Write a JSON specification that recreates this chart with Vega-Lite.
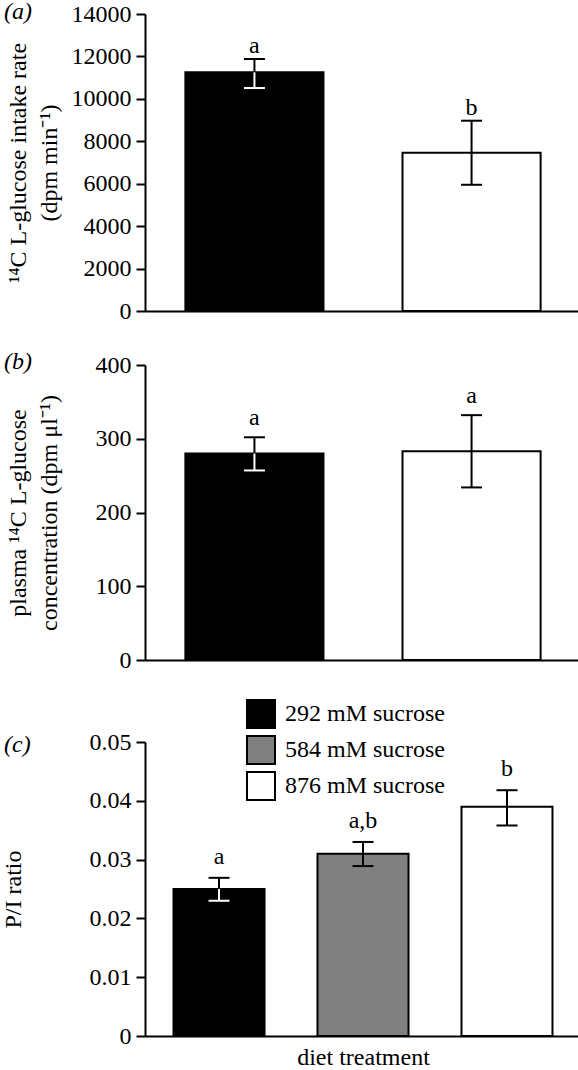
{
  "$schema": "https://vega.github.io/schema/vega-lite/v6.json",
  "padding": {"left": 1, "top": 0, "right": 0, "bottom": 0},
  "datasets": {
    "a": [
      {"diet": "292 mM sucrose", "value": 11250, "lo": 10510, "hi": 11880, "sig": "a"},
      {"diet": "876 mM sucrose", "value": 7460, "lo": 5950, "hi": 8970, "sig": "b"}
    ],
    "b": [
      {"diet": "292 mM sucrose", "value": 280, "lo": 257, "hi": 302, "sig": "a"},
      {"diet": "876 mM sucrose", "value": 283, "lo": 234, "hi": 332, "sig": "a"}
    ],
    "c": [
      {"diet": "292 mM sucrose", "value": 0.025, "lo": 0.023, "hi": 0.0269, "sig": "a"},
      {"diet": "584 mM sucrose", "value": 0.031, "lo": 0.0289, "hi": 0.033, "sig": "a,b"},
      {"diet": "876 mM sucrose", "value": 0.039, "lo": 0.0358, "hi": 0.0418, "sig": "b"}
    ]
  },
  "spacing": 27,
  "resolve": {
    "scale": {"x": "independent", "y": "independent", "fill": "independent"},
    "legend": {"fill": "independent"}
  },
  "vconcat": [
    {
      "width": 436,
      "height": 297,
      "title": {"text": "(a)", "anchor": "start", "frame": "group", "dx": -141, "dy": 34, "offset": 0, "baseline": "middle", "fontSize": 24, "fontStyle": "italic", "fontWeight": "normal", "font": "Liberation Serif", "color": "black"},
      "data": {"name": "a"},
      "encoding": {
        "x": {"field": "diet", "type": "nominal", "sort": null, "scale": {"paddingInner": 0.364, "paddingOuter": 0.186}, "axis": {"labels": false, "ticks": false, "title": null}}
      },
      "layer": [
        {
          "mark": {"type": "bar", "stroke": "black", "strokeWidth": 2},
          "encoding": {
            "y": {"field": "value", "type": "quantitative", "scale": {"domain": [0, 14000], "nice": false}, "axis": {"values": [0, 2000, 4000, 6000, 8000, 10000, 12000, 14000], "format": "d", "title": ["¹⁴C L-glucose intake rate", "(dpm min⁻¹)"], "titlePadding": 10, "titleLineHeight": 31}},
            "fill": {"field": "diet", "type": "nominal", "scale": {"domain": ["292 mM sucrose", "584 mM sucrose", "876 mM sucrose"], "range": ["#000000", "#808080", "#ffffff"]}, "legend": null}
          }
        },
        {"mark": {"type": "rule", "color": "black", "strokeWidth": 2}, "encoding": {"y": {"field": "value", "type": "quantitative"}, "y2": {"field": "hi"}}},
        {"mark": {"type": "tick", "color": "black", "thickness": 2, "size": 21, "orient": "horizontal", "opacity": 1}, "encoding": {"y": {"field": "hi", "type": "quantitative"}}},
        {"transform": [{"filter": "datum.diet == '292 mM sucrose'"}], "mark": {"type": "rule", "color": "white", "strokeWidth": 2}, "encoding": {"y": {"field": "lo", "type": "quantitative"}, "y2": {"field": "value"}}},
        {"transform": [{"filter": "datum.diet != '292 mM sucrose'"}], "mark": {"type": "rule", "color": "black", "strokeWidth": 2}, "encoding": {"y": {"field": "lo", "type": "quantitative"}, "y2": {"field": "value"}}},
        {"transform": [{"filter": "datum.diet == '292 mM sucrose'"}], "mark": {"type": "tick", "color": "white", "thickness": 2, "size": 21, "orient": "horizontal", "opacity": 1}, "encoding": {"y": {"field": "lo", "type": "quantitative"}}},
        {"transform": [{"filter": "datum.diet != '292 mM sucrose'"}], "mark": {"type": "tick", "color": "black", "thickness": 2, "size": 21, "orient": "horizontal", "opacity": 1}, "encoding": {"y": {"field": "lo", "type": "quantitative"}}},
        {"mark": {"type": "text", "baseline": "alphabetic", "dy": -6, "fontSize": 24, "font": "Liberation Serif", "color": "black"}, "encoding": {"y": {"field": "hi", "type": "quantitative"}, "text": {"field": "sig"}}}
      ]
    },
    {
      "width": 436,
      "height": 295,
      "title": {"text": "(b)", "anchor": "start", "frame": "group", "dx": -141, "dy": 33, "offset": 0, "baseline": "middle", "fontSize": 24, "fontStyle": "italic", "fontWeight": "normal", "font": "Liberation Serif", "color": "black"},
      "data": {"name": "b"},
      "encoding": {
        "x": {"field": "diet", "type": "nominal", "sort": null, "scale": {"paddingInner": 0.364, "paddingOuter": 0.186}, "axis": {"labels": false, "ticks": false, "title": null}}
      },
      "layer": [
        {
          "mark": {"type": "bar", "stroke": "black", "strokeWidth": 2},
          "encoding": {
            "y": {"field": "value", "type": "quantitative", "scale": {"domain": [0, 400], "nice": false}, "axis": {"values": [0, 100, 200, 300, 400], "format": "d", "title": ["plasma ¹⁴C L-glucose", "concentration (dpm μl⁻¹)"], "titlePadding": 34, "titleLineHeight": 31}},
            "fill": {"field": "diet", "type": "nominal", "scale": {"domain": ["292 mM sucrose", "584 mM sucrose", "876 mM sucrose"], "range": ["#000000", "#808080", "#ffffff"]}, "legend": null}
          }
        },
        {"mark": {"type": "rule", "color": "black", "strokeWidth": 2}, "encoding": {"y": {"field": "value", "type": "quantitative"}, "y2": {"field": "hi"}}},
        {"mark": {"type": "tick", "color": "black", "thickness": 2, "size": 21, "orient": "horizontal", "opacity": 1}, "encoding": {"y": {"field": "hi", "type": "quantitative"}}},
        {"transform": [{"filter": "datum.diet == '292 mM sucrose'"}], "mark": {"type": "rule", "color": "white", "strokeWidth": 2}, "encoding": {"y": {"field": "lo", "type": "quantitative"}, "y2": {"field": "value"}}},
        {"transform": [{"filter": "datum.diet != '292 mM sucrose'"}], "mark": {"type": "rule", "color": "black", "strokeWidth": 2}, "encoding": {"y": {"field": "lo", "type": "quantitative"}, "y2": {"field": "value"}}},
        {"transform": [{"filter": "datum.diet == '292 mM sucrose'"}], "mark": {"type": "tick", "color": "white", "thickness": 2, "size": 21, "orient": "horizontal", "opacity": 1}, "encoding": {"y": {"field": "lo", "type": "quantitative"}}},
        {"transform": [{"filter": "datum.diet != '292 mM sucrose'"}], "mark": {"type": "tick", "color": "black", "thickness": 2, "size": 21, "orient": "horizontal", "opacity": 1}, "encoding": {"y": {"field": "lo", "type": "quantitative"}}},
        {"mark": {"type": "text", "baseline": "alphabetic", "dy": -12, "fontSize": 24, "font": "Liberation Serif", "color": "black"}, "encoding": {"y": {"field": "hi", "type": "quantitative"}, "text": {"field": "sig"}}}
      ]
    },
    {
      "width": 436,
      "height": 294,
      "title": {"text": "(c)", "anchor": "start", "frame": "group", "dx": -141, "dy": 70, "offset": 0, "baseline": "middle", "fontSize": 24, "fontStyle": "italic", "fontWeight": "normal", "font": "Liberation Serif", "color": "black"},
      "data": {"name": "c"},
      "encoding": {
        "x": {"field": "diet", "type": "nominal", "sort": null, "scale": {"paddingInner": 0.368, "paddingOuter": 0.198}, "axis": {"labels": false, "ticks": false, "title": "diet treatment", "titlePadding": 9}}
      },
      "layer": [
        {
          "mark": {"type": "bar", "stroke": "black", "strokeWidth": 2},
          "encoding": {
            "y": {"field": "value", "type": "quantitative", "scale": {"domain": [0, 0.05], "nice": false}, "axis": {"values": [0, 0.01, 0.02, 0.03, 0.04, 0.05], "format": "~g", "title": "P/I ratio", "titlePadding": 64}},
            "fill": {"field": "diet", "type": "nominal", "scale": {"domain": ["292 mM sucrose", "584 mM sucrose", "876 mM sucrose"], "range": ["#000000", "#808080", "#ffffff"]}, "legend": {"orient": "none", "legendX": 101, "legendY": -43, "title": null, "direction": "vertical", "symbolType": "square", "symbolSize": 784, "symbolStrokeColor": "black", "symbolStrokeWidth": 2, "symbolOpacity": 1, "labelFontSize": 24, "labelFont": "Liberation Serif", "labelColor": "black", "labelOffset": 9, "rowPadding": 0, "padding": 0, "labelLimit": 400}}
          }
        },
        {"mark": {"type": "rule", "color": "black", "strokeWidth": 2}, "encoding": {"y": {"field": "value", "type": "quantitative"}, "y2": {"field": "hi"}}},
        {"mark": {"type": "tick", "color": "black", "thickness": 2, "size": 21, "orient": "horizontal", "opacity": 1}, "encoding": {"y": {"field": "hi", "type": "quantitative"}}},
        {"transform": [{"filter": "datum.diet == '292 mM sucrose'"}], "mark": {"type": "rule", "color": "white", "strokeWidth": 2}, "encoding": {"y": {"field": "lo", "type": "quantitative"}, "y2": {"field": "value"}}},
        {"transform": [{"filter": "datum.diet != '292 mM sucrose'"}], "mark": {"type": "rule", "color": "black", "strokeWidth": 2}, "encoding": {"y": {"field": "lo", "type": "quantitative"}, "y2": {"field": "value"}}},
        {"transform": [{"filter": "datum.diet == '292 mM sucrose'"}], "mark": {"type": "tick", "color": "white", "thickness": 2, "size": 21, "orient": "horizontal", "opacity": 1}, "encoding": {"y": {"field": "lo", "type": "quantitative"}}},
        {"transform": [{"filter": "datum.diet != '292 mM sucrose'"}], "mark": {"type": "tick", "color": "black", "thickness": 2, "size": 21, "orient": "horizontal", "opacity": 1}, "encoding": {"y": {"field": "lo", "type": "quantitative"}}},
        {"mark": {"type": "text", "baseline": "alphabetic", "dy": -14, "fontSize": 24, "font": "Liberation Serif", "color": "black"}, "encoding": {"y": {"field": "hi", "type": "quantitative"}, "text": {"field": "sig"}}}
      ]
    }
  ],
  "config": {
    "view": {"stroke": null},
    "font": "Liberation Serif",
    "axis": {
      "domainColor": "black", "domainWidth": 2, "tickColor": "black", "tickWidth": 2, "tickSize": 9,
      "labelFont": "Liberation Serif", "labelFontSize": 24, "labelColor": "black", "labelPadding": 5, "labelOverlap": false,
      "titleFont": "Liberation Serif", "titleFontSize": 24, "titleFontWeight": "normal", "titleColor": "black", "grid": false
    }
  }
}
